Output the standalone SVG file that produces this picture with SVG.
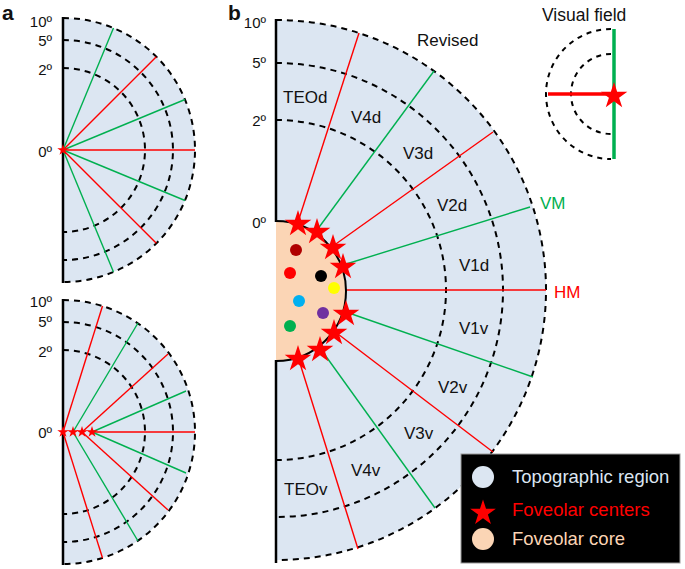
<svg xmlns="http://www.w3.org/2000/svg" width="685" height="569" viewBox="0 0 685 569">
<style>
text{font-family:"Liberation Sans",Arial,sans-serif;fill:#111}
.ax{font-size:15px;text-anchor:end}
.lb{font-size:17px}
.pl{font-size:21px;font-weight:bold}
.reg{fill:#dce6f2;stroke:none}
.dash{fill:none;stroke:#000;stroke-width:2;stroke-dasharray:6 5}
.axis{stroke:#000;stroke-width:2.5;fill:none}
.r{stroke:#ff0000;stroke-width:1.4;fill:none}
.g{stroke:#00b050;stroke-width:1.4;fill:none}
.st{fill:#ff0000}
</style>
<defs>
<path id="star" d="M0,-10 L2.245,-3.09 L9.511,-3.09 L3.633,1.18 L5.878,8.09 L0,3.82 L-5.878,8.09 L-3.633,1.18 L-9.511,-3.09 L-2.245,-3.09 Z"/>
</defs>

<text class="pl" x="2" y="20">a</text>
<text class="pl" x="228" y="20">b</text>

<!-- Panel a top -->
<g id="panel-a-top">
<path class="reg" d="M63,18 A132,132 0 0 1 63,282 Z"/>
<path class="dash" d="M63,18 A132,132 0 0 1 63,282"/>
<path class="dash" d="M63,40 A110,110 0 0 1 63,260"/>
<path class="dash" d="M63,68 A82,82 0 0 1 63,232"/>
<line class="axis" x1="63" y1="17" x2="63" y2="283"/>
<g id="rays-a-top">
<line class="g" x1="63" y1="150" x2="113.5" y2="28"/>
<line class="r" x1="63" y1="150" x2="156.3" y2="56.7"/>
<line class="g" x1="63" y1="150" x2="185" y2="99.5"/>
<line class="r" x1="63" y1="150" x2="195" y2="150"/>
<line class="g" x1="63" y1="150" x2="185" y2="200.5"/>
<line class="r" x1="63" y1="150" x2="156.3" y2="243.3"/>
<line class="g" x1="63" y1="150" x2="113.5" y2="272"/>
</g>
<use href="#star" class="st" transform="translate(63,150) scale(0.6)"/>
<text class="ax" x="52" y="27">10º</text>
<text class="ax" x="52" y="46">5º</text>
<text class="ax" x="52" y="75">2º</text>
<text class="ax" x="52" y="157">0º</text>
</g>

<!-- Panel a bottom -->
<g id="panel-a-bottom">
<path class="reg" d="M63,300 A132,132 0 0 1 63,564 Z"/>
<path class="dash" d="M63,300 A132,132 0 0 1 63,564"/>
<path class="dash" d="M63,322 A110,110 0 0 1 63,542"/>
<path class="dash" d="M63,350 A82,82 0 0 1 63,514"/>
<line class="axis" x1="63" y1="299" x2="63" y2="565"/>
<g id="rays-a-bottom">
<line class="r" x1="63" y1="432" x2="102.5" y2="306"/>
<line class="g" x1="73" y1="432" x2="138" y2="323"/>
<line class="r" x1="82" y1="432" x2="168" y2="354"/>
<line class="g" x1="92" y1="432" x2="186" y2="391"/>
<line class="r" x1="92" y1="432" x2="195" y2="432"/>
<line class="g" x1="92" y1="432" x2="186" y2="473"/>
<line class="r" x1="82" y1="432" x2="168" y2="510"/>
<line class="g" x1="73" y1="432" x2="138" y2="541"/>
<line class="r" x1="63" y1="432" x2="102.5" y2="558"/>
</g>
<use href="#star" class="st" transform="translate(63,432) scale(0.6)"/>
<use href="#star" class="st" transform="translate(73,432) scale(0.6)"/>
<use href="#star" class="st" transform="translate(82,432) scale(0.6)"/>
<use href="#star" class="st" transform="translate(92,432) scale(0.6)"/>
<text class="ax" x="52" y="307">10º</text>
<text class="ax" x="52" y="327">5º</text>
<text class="ax" x="52" y="357">2º</text>
<text class="ax" x="52" y="438">0º</text>
</g>

<!-- Panel b -->
<g id="panel-b">
<path class="reg" d="M276,20 A270,270 0 0 1 276,560 Z"/>
<path class="dash" d="M276,20 A270,270 0 0 1 276,560"/>
<path class="dash" d="M276,63 A227,227 0 0 1 276,517"/>
<path class="dash" d="M276,120 A170,170 0 0 1 276,460"/>
<g id="connectors">
<line class="r" x1="298" y1="222" x2="359" y2="33"/>
<line class="g" x1="317" y1="230" x2="434" y2="71"/>
<line class="r" x1="333" y1="246" x2="493" y2="132"/>
<line class="g" x1="343" y1="265" x2="530" y2="207"/>
<line class="r" x1="346" y1="290" x2="546" y2="290"/>
<line class="g" x1="346" y1="312" x2="533" y2="377"/>
<line class="r" x1="334" y1="331" x2="493" y2="452"/>
<line class="g" x1="320" y1="348" x2="435" y2="508"/>
<line class="r" x1="298" y1="357" x2="358" y2="549"/>
</g>
<g id="foveolar-core">
<path d="M276,221 A70,70 0 0 1 276,361 Z" fill="#fbd5b5"/>
<path d="M276,221 A70,70 0 0 1 276,361" fill="none" stroke="#000" stroke-width="2"/>
<circle cx="296" cy="250" r="6" fill="#b00000"/>
<circle cx="290" cy="273" r="6" fill="#ff0000"/>
<circle cx="321" cy="276" r="6" fill="#000"/>
<circle cx="334" cy="288" r="6" fill="#ffff00"/>
<circle cx="299" cy="301" r="6" fill="#00b0f0"/>
<circle cx="323" cy="313" r="6" fill="#7030a0"/>
<circle cx="290" cy="326" r="6" fill="#00b050"/>
</g>
<line class="axis" x1="276" y1="19" x2="276" y2="222"/>
<line class="axis" x1="276" y1="360" x2="276" y2="563"/>
<g id="foveolar-centers">
<use href="#star" class="st" transform="translate(298,224) scale(1.4)"/>
<use href="#star" class="st" transform="translate(317,232) scale(1.4)"/>
<use href="#star" class="st" transform="translate(333,248) scale(1.4)"/>
<use href="#star" class="st" transform="translate(343,267) scale(1.4)"/>
<use href="#star" class="st" transform="translate(346,314) scale(1.4)"/>
<use href="#star" class="st" transform="translate(334,333) scale(1.4)"/>
<use href="#star" class="st" transform="translate(320,350) scale(1.4)"/>
<use href="#star" class="st" transform="translate(298,359) scale(1.4)"/>
</g>
<text class="ax" x="266" y="28">10º</text>
<text class="ax" x="266" y="68">5º</text>
<text class="ax" x="266" y="126">2º</text>
<text class="ax" x="266" y="228">0º</text>
<text class="lb" x="417" y="46">Revised</text>
<text class="lb" x="283" y="103">TEOd</text>
<text class="lb" x="351" y="123">V4d</text>
<text class="lb" x="403" y="159">V3d</text>
<text class="lb" x="437" y="211">V2d</text>
<text class="lb" x="459" y="271">V1d</text>
<text class="lb" x="459" y="334">V1v</text>
<text class="lb" x="438" y="393">V2v</text>
<text class="lb" x="404" y="439">V3v</text>
<text class="lb" x="351" y="476">V4v</text>
<text class="lb" x="284" y="495">TEOv</text>
<text class="lb" x="540" y="209" style="fill:#00b050">VM</text>
<text class="lb" x="554" y="298" style="fill:#ff0000">HM</text>
</g>

<!-- Visual field inset -->
<g id="visual-field">
<text x="542" y="21" style="font-size:17.5px">Visual field</text>
<path class="dash" d="M611,29 A65,65 0 0 0 611,159" style="stroke-dasharray:5 5"/>
<path class="dash" d="M611,54 A40,40 0 0 0 611,134" style="stroke-dasharray:5 5"/>
<line x1="614" y1="29" x2="614" y2="159" stroke="#00b050" stroke-width="3.5"/>
<line x1="548" y1="94" x2="614" y2="94" stroke="#ff0000" stroke-width="3.5"/>
<use href="#star" class="st" transform="translate(614,96) scale(1.4)"/>
</g>

<!-- Legend -->
<g id="legend">
<rect x="461" y="454" width="219" height="109" fill="#000" stroke="#999" stroke-width="1"/>
<circle cx="483" cy="477" r="11" fill="#dce6f2"/>
<text x="512" y="483" style="font-size:18.5px;fill:#dce6f2">Topographic region</text>
<use href="#star" class="st" transform="translate(483,513) scale(1.35)"/>
<text x="512" y="516" style="font-size:18.5px;fill:#ff0000">Foveolar centers</text>
<circle cx="483" cy="539" r="11" fill="#fbd5b5"/>
<text x="512" y="545" style="font-size:18.5px;fill:#fbd5b5">Foveolar core</text>
</g>
</svg>
